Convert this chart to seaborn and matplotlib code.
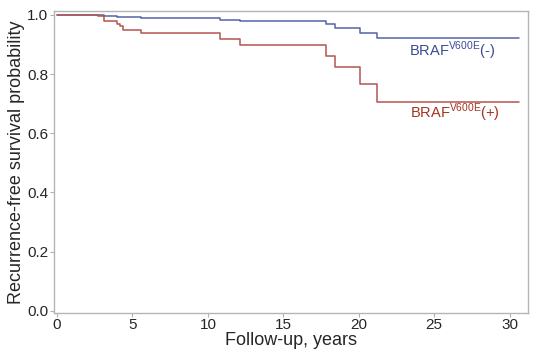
import matplotlib
matplotlib.use('Agg')
import matplotlib.pyplot as plt
import numpy as np
import pandas as pd
import seaborn as sns

# Kaplan-Meier steps
t_neg = [0, 2.8, 3.1, 4.0, 5.6, 10.8, 12.1, 17.8, 18.4, 20.1, 21.2, 30.6]
s_neg = [1.0, 0.998, 0.996, 0.992, 0.988, 0.983, 0.980, 0.970, 0.955, 0.939, 0.922, 0.922]
t_pos = [0, 2.7, 3.1, 4.0, 4.2, 4.4, 5.6, 10.8, 12.1, 17.8, 18.4, 20.1, 21.2, 30.6]
s_pos = [1.0, 0.997, 0.978, 0.970, 0.961, 0.950, 0.939, 0.919, 0.899, 0.860, 0.823, 0.765, 0.706, 0.706]
groups = ['neg', 'pos']
x_ticks = [0, 5, 10, 15, 20, 25, 30]
y_ticks = [0.0, 0.2, 0.4, 0.6, 0.8, 1.0]

df = pd.concat([
    pd.DataFrame({'time': t_neg, 'surv': s_neg, 'group': 'neg'}),
    pd.DataFrame({'time': t_pos, 'surv': s_pos, 'group': 'pos'}),
])

sns.set_style('white')
plt.rcParams['font.family'] = ['Liberation Sans', 'DejaVu Sans']

fig = plt.figure(figsize=(5.36, 3.56), dpi=100)
ax = fig.add_axes([0.1007, 0.121, 0.884, 0.848])
sns.lineplot(data=df, x='time', y='surv', hue='group', hue_order=groups,
             palette={'neg': '#5563a8', 'pos': '#b4554f'},
             drawstyle='steps-post', estimator=None, legend=False,
             linewidth=1.1, ax=ax)

ax.text(23.3, 0.880, r'BRAF$^{\mathregular{V600E}}$(-)', color='#3d4a93',
        fontsize=10.5, va='center', ha='left')
ax.text(23.4, 0.668, r'BRAF$^{\mathregular{V600E}}$(+)', color='#a5321f',
        fontsize=10.5, va='center', ha='left')

ax.set_xlim(-0.2, 31.2)
ax.set_ylim(-0.007, 1.013)
ax.set_xticks(x_ticks)
ax.set_yticks(y_ticks)
ax.set_yticklabels([f'{v:.1f}' for v in y_ticks])
ax.set_xlabel('Follow-up, years', fontsize=13, labelpad=0)
ax.set_ylabel('Recurrence-free survival probability', fontsize=13, labelpad=2)
ax.tick_params(axis='both', labelsize=11, length=3, width=0.8, color='#b0b0b0',
               direction='out', pad=1, bottom=True, left=True)
for sp in ax.spines.values():
    sp.set_color('#b5b5b5')
    sp.set_linewidth(1.0)

plt.savefig('out.png', dpi=100)
